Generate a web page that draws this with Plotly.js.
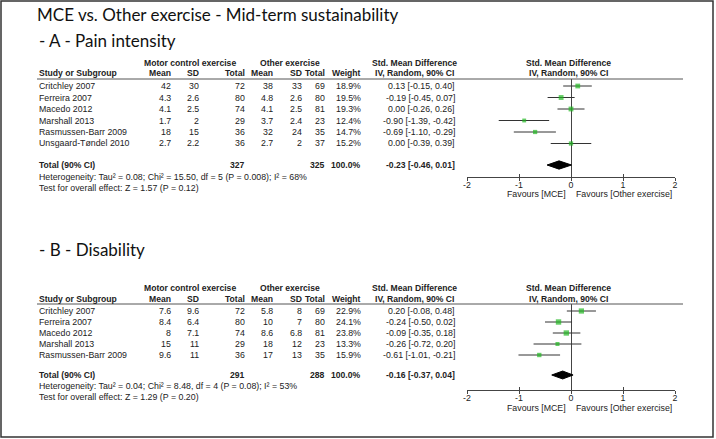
<!DOCTYPE html>
<html><head><meta charset="utf-8">
<script src="https://cdn.plot.ly/plotly-3.0.1.min.js"></script>
<style>html,body{margin:0;padding:0;background:#fff;}</style>
</head><body><div id="chart" style="width:716px;height:439px;"></div>
<script>
// ---------- Data: Panel A (Pain intensity) ----------
const titleMain = "MCE vs. Other exercise - Mid-term sustainability";
const titleA = "- A - Pain intensity";
const studiesA = ["Critchley 2007","Ferreira 2007","Macedo 2012","Marshall 2013","Rasmussen-Barr 2009","Unsgaard-Tøndel 2010"];
const mceMeanA = ["42","4.3","4.1","1.7","18","2.7"];
const mceSdA   = ["30","2.6","2.5","2","15","2.2"];
const mceNA    = [72,80,74,29,36,36];
const oeMeanA  = ["38","4.8","4.1","3.7","32","2.7"];
const oeSdA    = ["33","2.6","2.5","2.4","24","2"];
const oeNA     = [69,80,81,23,35,37];
const weightA  = [18.9,19.5,19.3,12.4,14.7,15.2];
const smdA     = [0.13,-0.19,0.00,-0.90,-0.69,0.00];
const loA      = [-0.15,-0.45,-0.26,-1.39,-1.10,-0.39];
const hiA      = [0.40,0.07,0.26,-0.42,-0.29,0.39];
const totalNA  = [327,325];
const totalSmdA = [-0.23,-0.46,0.01];
const hetA  = "Heterogeneity: Tau² = 0.08; Chi² = 15.50, df = 5 (P = 0.008); I² = 68%";
const testA = "Test for overall effect: Z = 1.57 (P = 0.12)";

// ---------- Data: Panel B (Disability) ----------
const titleB = "- B - Disability";
const studiesB = ["Critchley 2007","Ferreira 2007","Macedo 2012","Marshall 2013","Rasmussen-Barr 2009"];
const mceMeanB = ["7.6","8.4","8","15","9.6"];
const mceSdB   = ["9.6","6.4","7.1","11","11"];
const mceNB    = [72,80,74,29,36];
const oeMeanB  = ["5.8","10","8.6","18","17"];
const oeSdB    = ["8","7","6.8","12","13"];
const oeNB     = [69,80,81,23,35];
const weightB  = [22.9,24.1,23.8,13.3,15.9];
const smdB     = [0.20,-0.24,-0.09,-0.26,-0.61];
const loB      = [-0.08,-0.50,-0.35,-0.72,-1.01];
const hiB      = [0.48,0.02,0.18,0.20,-0.21];
const totalNB  = [291,288];
const totalSmdB = [-0.16,-0.37,0.04];
const hetB  = "Heterogeneity: Tau² = 0.04; Chi² = 8.48, df = 4 (P = 0.08); I² = 53%";
const testB = "Test for overall effect: Z = 1.29 (P = 0.20)";

// ---------- Shared labels ----------
const headerGroups = ["Motor control exercise","Other exercise","Std. Mean Difference","Std. Mean Difference"];
const headerCols = ["Study or Subgroup","Mean","SD","Total","Mean","SD","Total","Weight","IV, Random, 90% CI","IV, Random, 90% CI"];
const totalLabel = "Total (90% CI)";
const tickVals = [-2,-1,0,1,2];
const tickText = ["-2","-1","0","1","2"];
const favours = ["Favours [MCE]","Favours [Other exercise]"];

// ---------- Layout helpers ----------
const W = 716, H = 439;
const px = x => x / W;
const py = y => 1 - y / H;
const NFONT = "'Liberation Sans Narrow','Arial Narrow','Liberation Sans',Arial,sans-serif";
const BFONT = "'Liberation Sans',Arial,sans-serif";
const HFONT = "Lato,'Open Sans','Noto Sans',sans-serif";
const TXT = '#222';
const NSIZE = 8.8, BSIZE = 8.6;
const col = {study:37, m1:173, s1:201, n1:247, m2:275, s2:304, n2:327, w:363, smd:457, hSmd:414, hPlot:568, gMce:190, gOe:290, lineEnd:683};
const plotX0 = 467, plotX1 = 675;

function ann(text, x, y, xanchor, bold) {
  return {text: text, xref:'paper', yref:'paper', x:px(x), y:py(y), xanchor:xanchor, yanchor:'middle',
    showarrow:false, font: bold ? {family:BFONT, size:BSIZE, color:TXT, weight:'bold'} : {family:NFONT, size:NSIZE, color:TXT}};
}
const f2 = v => v.toFixed(2);
const ciText = (e,l,h) => f2(e) + " [" + f2(l) + ", " + f2(h) + "]";

const panels = [
  {title:titleA, studies:studiesA, m1:mceMeanA, s1:mceSdA, n1:mceNA, m2:oeMeanA, s2:oeSdA, n2:oeNA,
   w:weightA, est:smdA, lo:loA, hi:hiA, totN:totalNA, totE:totalSmdA, het:hetA, test:testA,
   xa:'x', ya:'y', xo:'x3', xo2:'x5', pos:{title:40, hdr1:63, hdr2:73, line:79, row0:86, rowH:11.5, total:165, het:177, test:188, axis:177, fav:194}},
  {title:titleB, studies:studiesB, m1:mceMeanB, s1:mceSdB, n1:mceNB, m2:oeMeanB, s2:oeSdB, n2:oeNB,
   w:weightB, est:smdB, lo:loB, hi:hiB, totN:totalNB, totE:totalSmdB, het:hetB, test:testB,
   xa:'x2', ya:'y2', xo:'x4', xo2:'x6', pos:{title:249, hdr1:288, hdr2:299, line:304, row0:311, rowH:11, total:375, het:386, test:397, axis:390, fav:408}}
];

const traces = [], annotations = [], shapes = [], layoutAxes = {};

panels.forEach((p, k) => {
  const P = p.pos;
  const rowIdx = p.studies.map((_, i) => i);
  const totIdx = (P.total - P.row0) / P.rowH;
  annotations.push({text:p.title, xref:'paper', yref:'paper', x:px(37), y:py(P.title), xanchor:'left', yanchor:'middle',
    showarrow:false, font:{family:HFONT, size:17, color:'#111'}});
  annotations.push(ann(headerGroups[0], col.gMce, P.hdr1, 'center', true));
  annotations.push(ann(headerGroups[1], col.gOe, P.hdr1, 'center', true));
  annotations.push(ann(headerGroups[2], col.hSmd, P.hdr1, 'center', true));
  annotations.push(ann(headerGroups[3], col.hPlot, P.hdr1, 'center', true));
  annotations.push(ann(headerCols[0], col.study, P.hdr2, 'left', true));
  [col.m1,col.s1,col.n1,col.m2,col.s2,col.n2,col.w].forEach((x, j) => annotations.push(ann(headerCols[j+1], x, P.hdr2, 'right', true)));
  annotations.push(ann(headerCols[8], col.hSmd, P.hdr2, 'center', true));
  annotations.push(ann(headerCols[9], col.hPlot, P.hdr2, 'center', true));
  shapes.push({type:'line', xref:'paper', yref:'paper', x0:px(col.study), x1:px(col.lineEnd), y0:py(P.line), y1:py(P.line), line:{color:'#555', width:1}});
  p.studies.forEach((s, i) => {
    const y = P.row0 + P.rowH * i;
    annotations.push(ann(s, col.study, y, 'left'));
    annotations.push(ann(p.m1[i], col.m1, y, 'right'));
    annotations.push(ann(p.s1[i], col.s1, y, 'right'));
    annotations.push(ann(String(p.n1[i]), col.n1, y, 'right'));
    annotations.push(ann(p.m2[i], col.m2, y, 'right'));
    annotations.push(ann(p.s2[i], col.s2, y, 'right'));
    annotations.push(ann(String(p.n2[i]), col.n2, y, 'right'));
    annotations.push(ann(p.w[i].toFixed(1) + "%", col.w, y, 'right'));
    annotations.push(ann(ciText(p.est[i], p.lo[i], p.hi[i]), col.smd, y, 'right'));
  });
  annotations.push(ann(totalLabel, col.study, P.total, 'left', true));
  annotations.push(ann(String(p.totN[0]), col.n1, P.total, 'right', true));
  annotations.push(ann(String(p.totN[1]), col.n2, P.total, 'right', true));
  annotations.push(ann(p.w.reduce((a,b)=>a+b,0).toFixed(1) + "%", col.w, P.total, 'right', true));
  annotations.push(ann(ciText(p.totE[0], p.totE[1], p.totE[2]), col.smd, P.total, 'right', true));
  annotations.push(ann(p.het, col.study, P.het, 'left'));
  annotations.push(ann(p.test, col.study, P.test, 'left'));
  annotations.push({text:favours[0], xref:p.xa, yref:'paper', x:0, y:py(P.fav), xanchor:'right', yanchor:'middle', xshift:-3,
    showarrow:false, font:{family:NFONT, size:NSIZE, color:TXT}});
  annotations.push({text:favours[1], xref:p.xa, yref:'paper', x:0, y:py(P.fav), xanchor:'left', yanchor:'middle', xshift:3,
    showarrow:false, font:{family:NFONT, size:NSIZE, color:TXT}});

  traces.push({type:'scatter', mode:'markers', x:p.est, y:rowIdx, xaxis:p.xa, yaxis:p.ya,
    marker:{symbol:'square', color:'#22b822', size:p.w.map(v => 1.1 * Math.sqrt(v)), line:{width:0}},
    error_x:{type:'data', symmetric:false, array:p.hi.map((h,i)=>h - p.est[i]), arrayminus:p.lo.map((l,i)=>p.est[i] - l),
      width:0, thickness:1, color:'#333'},
    cliponaxis:false, hoverinfo:'skip', showlegend:false});
  const d = 0.36;
  traces.push({type:'scatter', mode:'lines', x:[p.totE[1], p.totE[0], p.totE[2], p.totE[0], p.totE[1]],
    y:[totIdx, totIdx - d, totIdx, totIdx + d, totIdx], xaxis:p.xa, yaxis:p.ya, fill:'toself', fillcolor:'#000',
    line:{color:'#000', width:1}, hoverinfo:'skip', showlegend:false});
  // empty traces so the overlay axes (tick halves crossing the axis line) are drawn
  traces.push({type:'scatter', mode:'markers', x:[], y:[], xaxis:p.xo, yaxis:p.ya, showlegend:false, hoverinfo:'skip'});
  traces.push({type:'scatter', mode:'markers', x:[], y:[], xaxis:p.xo2, yaxis:p.ya, showlegend:false, hoverinfo:'skip'});

  const xName = k === 0 ? 'xaxis' : 'xaxis2';
  const yName = k === 0 ? 'yaxis' : 'yaxis2';
  const xoName = k === 0 ? 'xaxis3' : 'xaxis4';
  const xo2Name = k === 0 ? 'xaxis5' : 'xaxis6';
  layoutAxes[xName] = {domain:[px(plotX0), px(plotX1)], range:[-2,2], anchor:p.ya, showline:true, linecolor:'#444', linewidth:1,
    ticks:'', tickvals:tickVals, ticktext:tickText, ticklabelstandoff:-1,
    tickfont:{family:NFONT, size:NSIZE, color:TXT}, showgrid:false, zeroline:true, zerolinecolor:'#444', zerolinewidth:1, fixedrange:true};
  layoutAxes[xoName] = {overlaying:p.xa, anchor:p.ya, side:'bottom', range:[-2,2], showline:false, ticks:'inside', ticklen:3,
    tickcolor:'#444', tickvals:tickVals, showticklabels:false, showgrid:false, zeroline:false, fixedrange:true};
  layoutAxes[xo2Name] = {overlaying:p.xa, anchor:p.ya, side:'bottom', range:[-2,2], showline:false, ticks:'outside', ticklen:3,
    tickcolor:'#444', tickvals:tickVals, showticklabels:false, showgrid:false, zeroline:false, fixedrange:true};
  layoutAxes[yName] = {domain:[py(P.axis), py(P.line)], range:[(P.axis - P.row0) / P.rowH, (P.line - P.row0) / P.rowH],
    anchor:p.xa, visible:false, showgrid:false, zeroline:false, fixedrange:true};
});

shapes.push({type:'rect', xref:'paper', yref:'paper', x0:px(1), x1:px(713), y0:py(437), y1:py(1), line:{color:'#333', width:1.5}});

const layout = Object.assign({
  width:W, height:H, margin:{l:0, r:0, t:0, b:0}, paper_bgcolor:'#fff', plot_bgcolor:'rgba(0,0,0,0)',
  title:{text:titleMain, x:px(37), xanchor:'left', y:py(15), yanchor:'middle', font:{family:HFONT, size:17, color:'#111'}},
  showlegend:false, annotations:annotations, shapes:shapes
}, layoutAxes);

Plotly.newPlot('chart', traces, layout, {displayModeBar:false, staticPlot:true});
</script></body></html>
